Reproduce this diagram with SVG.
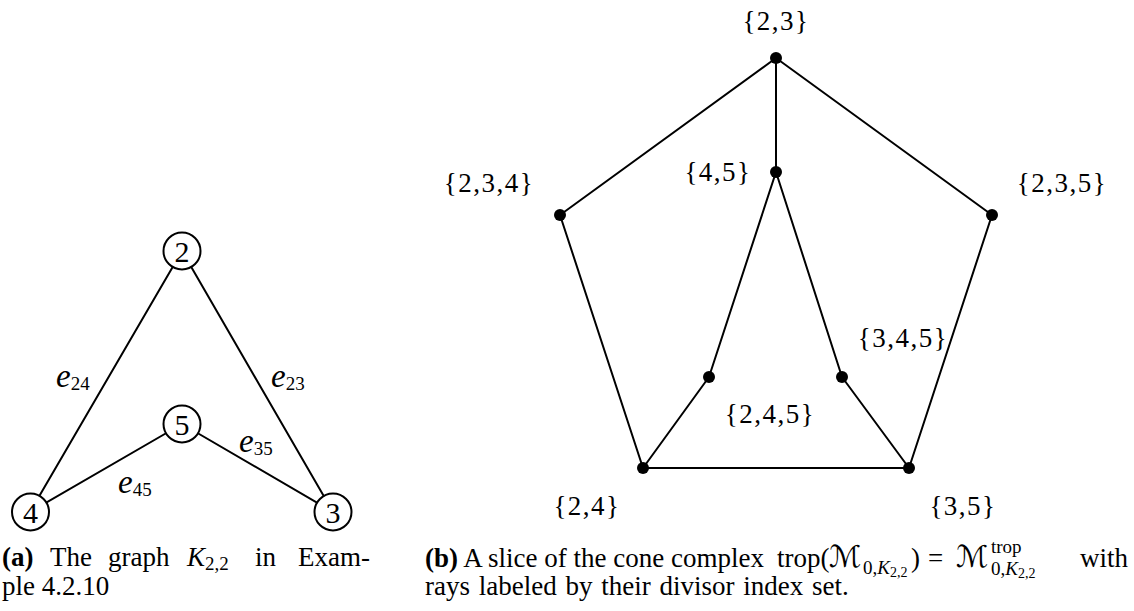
<svg xmlns="http://www.w3.org/2000/svg" width="1134" height="611" viewBox="0 0 1134 611">
<style>
 .e{stroke:#000;stroke-width:2;fill:none;stroke-linecap:round}
 .n{fill:#fff;stroke:#000;stroke-width:2}
 .d{fill:#000}
 text{font-family:"Liberation Serif","Times New Roman",serif;fill:#000}
 .nl{font-size:30px;text-anchor:middle}
 .lab{font-size:27px;text-anchor:middle;letter-spacing:1.5px}
 .el{font-size:33px;font-style:italic}
 .sub{font-size:19px;font-style:normal}
 .cap{font-size:27px}
 .cal{font-family:"DejaVu Serif","DejaVu Sans",serif;font-size:30px}
 .it{font-style:italic}
 .s{font-size:19px}
 .ss{font-size:14px}
</style>
<rect width="1134" height="611" fill="#fff"/>

<g id="connectors-a">
 <line class="e" x1="182" y1="251" x2="30" y2="512"/>
 <line class="e" x1="182" y1="251" x2="333" y2="512"/>
 <line class="e" x1="182" y1="424" x2="30" y2="512"/>
 <line class="e" x1="182" y1="424" x2="333" y2="512"/>
</g>
<g id="edge-labels-a">
 <text class="el" x="56" y="387">e<tspan class="sub" dy="3">24</tspan></text>
 <text class="el" x="271" y="387">e<tspan class="sub" dy="3">23</tspan></text>
 <text class="el" x="239" y="452">e<tspan class="sub" dy="3">35</tspan></text>
 <text class="el" x="118" y="493">e<tspan class="sub" dy="3">45</tspan></text>
</g>
<g id="a-node-2"><circle class="n" cx="182" cy="251" r="18.5"/><text class="nl" x="182" y="261.5">2</text></g>
<g id="a-node-5"><circle class="n" cx="182" cy="424" r="18.5"/><text class="nl" x="182" y="434.5">5</text></g>
<g id="a-node-4"><circle class="n" cx="30.5" cy="512" r="18.5"/><text class="nl" x="30.5" y="522.5">4</text></g>
<g id="a-node-3"><circle class="n" cx="333" cy="512" r="18.5"/><text class="nl" x="333" y="522.5">3</text></g>

<g id="connectors-b">
 <line class="e" x1="776" y1="58" x2="560" y2="215"/>
 <line class="e" x1="776" y1="58" x2="992" y2="215"/>
 <line class="e" x1="776" y1="58" x2="776" y2="172"/>
 <line class="e" x1="560" y1="215" x2="643" y2="468"/>
 <line class="e" x1="992" y1="215" x2="909" y2="468"/>
 <line class="e" x1="643" y1="468" x2="909" y2="468"/>
 <line class="e" x1="776" y1="172" x2="709" y2="377"/>
 <line class="e" x1="776" y1="172" x2="842" y2="377"/>
 <line class="e" x1="709" y1="377" x2="643" y2="468"/>
 <line class="e" x1="842" y1="377" x2="909" y2="468"/>
</g>
<g id="b-23"><circle class="d" cx="776" cy="58" r="6"/><text class="lab" x="776" y="30">{2,3}</text></g>
<g id="b-45"><circle class="d" cx="776" cy="172" r="6"/><text class="lab" x="718" y="181">{4,5}</text></g>
<g id="b-234"><circle class="d" cx="560" cy="215" r="6"/><text class="lab" x="489" y="192">{2,3,4}</text></g>
<g id="b-235"><circle class="d" cx="992" cy="215" r="6"/><text class="lab" x="1062" y="192">{2,3,5}</text></g>
<g id="b-245"><circle class="d" cx="709" cy="377" r="6"/><text class="lab" x="770" y="423">{2,4,5}</text></g>
<g id="b-345"><circle class="d" cx="842" cy="377" r="6"/><text class="lab" x="903" y="347">{3,4,5}</text></g>
<g id="b-24"><circle class="d" cx="643" cy="468" r="6"/><text class="lab" x="587" y="515">{2,4}</text></g>
<g id="b-35"><circle class="d" cx="909" cy="468" r="6"/><text class="lab" x="963" y="515">{3,5}</text></g>

<g id="caption-a">
 <text class="cap" y="566"><tspan x="2" font-weight="bold">(a)</tspan><tspan x="50">The</tspan><tspan x="108">graph</tspan><tspan x="187" class="it">K</tspan><tspan class="s" dy="4">2,2</tspan><tspan x="255" dy="-4">in</tspan><tspan x="298">Exam-</tspan></text>
 <text class="cap" x="2" y="595">ple 4.2.10</text>
</g>
<g id="caption-b">
 <text class="cap" x="425" y="567"><tspan font-weight="bold">(b)</tspan> A slice of the cone complex</text>
 <text class="cap" x="777" y="567">trop(</text>
 <text class="cap" x="829" y="567"><tspan class="cal">ℳ</tspan></text>
 <text class="s" x="863" y="574">0,<tspan class="it">K</tspan><tspan class="ss" dy="3">2,2</tspan></text>
 <text class="cap" x="911" y="567">)</text>
 <text class="cap" x="928" y="567">=</text>
 <text class="cap" x="956" y="567"><tspan class="cal">ℳ</tspan></text>
 <text class="s" x="991" y="553">trop</text>
 <text class="s" x="991" y="575">0,<tspan class="it">K</tspan><tspan class="ss" dy="3">2,2</tspan></text>
 <text class="cap" x="1080" y="567">with</text>
 <text class="cap" x="425" y="595" word-spacing="2">rays labeled by their divisor index set.</text>
</g>
</svg>
